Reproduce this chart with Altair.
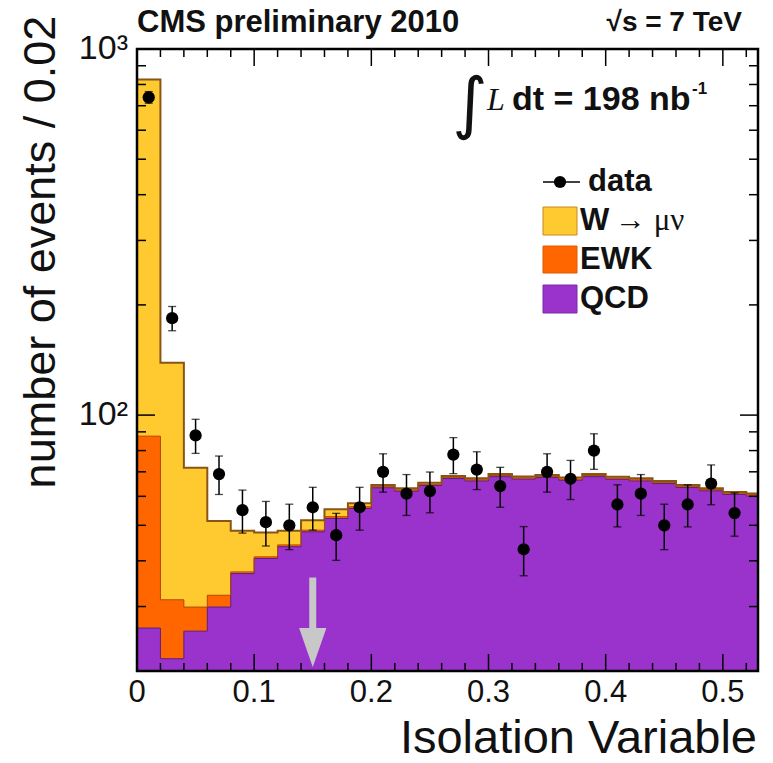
import altair as alt
import pandas as pd

# ---------------- data ----------------
bin_width = 0.02
# per-process contributions per 0.02 bin (0.00 ... 0.54)
qcd = [26.2, 21.6, 25.7, 29.9, 36.9, 40.6, 43.7, 48.0, 52.2, 55.6, 63.3, 62.0, 64.2, 67.1,
       66.1, 67.9, 66.9, 67.5, 66.4, 67.9, 66.8, 66.1, 65.0, 63.4, 62.1, 60.7, 60.1]
ewk = [61.4, 9.7, 4.2, 2.3, 0.4, 0.4, 0.5, 0.5, 0.6, 0.6, 0.6, 0.5, 0.5, 0.5,
       0.5, 0.5, 0.5, 0.5, 0.5, 0.5, 0.5, 0.5, 0.5, 0.5, 0.5, 0.5, 0.5]
wmunu = [738.4, 107.7, 41.9, 19.2, 11.0, 6.8, 4.1, 3.1, 2.5, 1.2, 0.5, 0.6, 0.6, 0.6,
         0.6, 0.6, 0.6, 0.6, 0.6, 0.6, 0.6, 0.6, 0.6, 0.5, 0.5, 0.5, 0.5]
# data points (bin centres 0.01 ... 0.51)
data_counts = [738, 184, 88, 69, 55, 51, 50, 56, 47, 56, 70, 61, 62, 78, 71, 64, 43, 70,
               67, 80, 57, 61, 50, 57, 65, 54]
data_err = [27, 14, 9.4, 8.3, 7.4, 7.1, 7.1, 7.5, 6.9, 7.5, 8.4, 7.8, 7.9, 8.8, 8.4, 8.0,
            6.6, 8.4, 8.2, 8.9, 7.5, 7.8, 7.1, 7.5, 8.1, 7.3]
x_tick_labels = [0, 0.1, 0.2, 0.3, 0.4, 0.5]
x_tick_text = ["0", "0.1", "0.2", "0.3", "0.4", "0.5"]
y_minor = [20, 30, 40, 50, 60, 70, 80, 90, 200, 300, 400, 500, 600, 700, 800, 900]
y_major = [100, 1000]
y_label_text = ["10²", "10³"]
cut_value = 0.15
arrow_top, arrow_head = 36.0, 23.2
y_floor = 20

# ---------------- styling ----------------
W, H = 621, 622
YEL, ORA, PUR = "#FFCA30", "#FF6600", "#9933CC"
SANS = "Liberation Sans"

xs = alt.Scale(domain=[0, 0.53], nice=False, zero=False)
ys = alt.Scale(type="log", domain=[y_floor, 1000], nice=False)

n = len(qcd)
lo = [round(i * bin_width, 2) for i in range(n)]
hi = [round((i + 1) * bin_width, 2) for i in range(n)]
s1 = list(qcd)
s2 = [a + b for a, b in zip(s1, ewk)]
s3 = [a + b for a, b in zip(s2, wmunu)]
step = pd.DataFrame({"x": lo + [hi[-1]], "tot": s3 + [s3[-1]],
                     "ewk": s2 + [s2[-1]], "qcd": s1 + [s1[-1]],
                     "base": [y_floor] * (n + 1)})

centers = [round(i * bin_width + bin_width / 2, 3) for i in range(len(data_counts))]
pts = pd.DataFrame({"x": centers, "y": data_counts,
                    "lo": [c - e for c, e in zip(data_counts, data_err)],
                    "hi": [c + e for c, e in zip(data_counts, data_err)]})

X = lambda f: alt.X(f, scale=xs, axis=None)
Y = lambda f: alt.Y(f, scale=ys, axis=None)

layers = []
# stacked filled histograms
for col, colr in [("tot", YEL), ("ewk", ORA), ("qcd", PUR)]:
    layers.append(alt.Chart(step).mark_area(interpolate="step-after", color=colr, opacity=1,
                                            clip=True)
                  .encode(x=X("x:Q"), y=Y(f"{col}:Q"), y2="base:Q"))
# outlines
for col, colr, sw in [("qcd", "#5b1f80", 1), ("ewk", "#b34700", 1), ("tot", "#8a5514", 2)]:
    layers.append(alt.Chart(step).mark_line(interpolate="step-after", color=colr,
                                            strokeWidth=sw, clip=True)
                  .encode(x=X("x:Q"), y=Y(f"{col}:Q")))

# cut arrow
arr = pd.DataFrame({"x": [cut_value], "top": [arrow_top], "head": [arrow_head]})
layers.append(alt.Chart(arr).mark_rule(color="#C8C8C8", strokeWidth=7)
              .encode(x=X("x:Q"), y=Y("top:Q"), y2="head:Q"))
layers.append(alt.Chart(arr).mark_point(shape="M -0.7 -1 L 0.7 -1 L 0 1 Z", filled=True,
                                        color="#C8C8C8", opacity=1, size=1521)
              .encode(x=X("x:Q"), y=Y("head:Q")))

# data with error bars
layers.append(alt.Chart(pts).mark_rule(color="black", strokeWidth=1.5)
              .encode(x=X("x:Q"), y=Y("lo:Q"), y2="hi:Q"))
for c in ["lo", "hi"]:
    layers.append(alt.Chart(pts).mark_tick(orient="horizontal", color="black", size=8,
                                           thickness=1.3)
                  .encode(x=X("x:Q"), y=Y(f"{c}:Q")))
layers.append(alt.Chart(pts).mark_circle(color="black", size=150, opacity=1)
              .encode(x=X("x:Q"), y=Y("y:Q")))

# ticks (inside, ROOT style)
xt = pd.DataFrame({"v": [round(i * bin_width, 2) for i in range(27)]})
xt["major"] = [abs(v * 10 - round(v * 10)) < 1e-6 for v in xt["v"]]
for is_major, ln in [(True, 17), (False, 8)]:
    d = xt[xt["major"] == is_major]
    layers.append(alt.Chart(d).mark_rule(color="black", strokeWidth=1.5)
                  .encode(x=X("v:Q"), y=alt.value(H), y2=alt.value(H - ln)))
    layers.append(alt.Chart(d).mark_rule(color="black", strokeWidth=1.5)
                  .encode(x=X("v:Q"), y=alt.value(0), y2=alt.value(ln)))
for vals, ln in [(y_major, 18), (y_minor, 9)]:
    d = pd.DataFrame({"v": vals})
    layers.append(alt.Chart(d).mark_rule(color="black", strokeWidth=1.5)
                  .encode(y=Y("v:Q"), x=alt.value(0), x2=alt.value(ln)))
    layers.append(alt.Chart(d).mark_rule(color="black", strokeWidth=1.5)
                  .encode(y=Y("v:Q"), x=alt.value(W), x2=alt.value(W - ln)))

# frame
one = pd.DataFrame({"a": [0]})
layers.append(alt.Chart(one).mark_rect(fillOpacity=0, stroke="black", strokeWidth=2.5)
              .encode(x=alt.value(0), x2=alt.value(W), y=alt.value(0), y2=alt.value(H)))

# tick labels
xl = pd.DataFrame({"v": x_tick_labels, "t": x_tick_text})
layers.append(alt.Chart(xl).mark_text(font=SANS, fontSize=31, color="#111", baseline="alphabetic")
              .encode(x=X("v:Q"), y=alt.value(H + 31), text="t:N"))
yl = pd.DataFrame({"v": y_major, "t": y_label_text})
layers.append(alt.Chart(yl).mark_text(font=SANS, fontSize=34, color="#111",
                                      align="right", baseline="middle")
              .encode(y=Y("v:Q"), x=alt.value(-9), text="t:N"))


def txt(s, x, y, size, weight="normal", align="left", baseline="alphabetic",
        font=SANS, style="normal", angle=0, color="#111"):
    kw = dict(font=font, fontSize=size, fontWeight=weight, align=align, baseline=baseline,
              color=color, fontStyle=style)
    if angle:
        kw["angle"] = angle
    return alt.Chart(one).mark_text(**kw).encode(x=alt.value(x), y=alt.value(y),
                                                  text=alt.value(s))


# axis titles
layers.append(txt("Isolation Variable", W - 1, H + 82, 47, align="right"))
layers.append(txt("number of events / 0.02", -82, 203, 45, align="center", angle=270))
# header texts
layers.append(txt("CMS preliminary 2010", 0, -17, 31, weight="bold"))
layers.append(txt("√s = 7 TeV", 605, -18, 28, weight="bold", align="right"))
# luminosity
layers.append(txt("∫", 333, 57, 68, font="DejaVu Sans", align="center", baseline="middle"))
layers.append(txt("L", 350, 61, 32, font="Liberation Serif", style="italic"))
layers.append(txt("dt = 198 nb", 375, 61, 34, weight="bold"))
layers.append(txt("-1", 555, 45, 17, weight="bold"))

# legend
leg_line = alt.Chart(one).mark_rule(color="black", strokeWidth=1.5).encode(
    x=alt.value(406), x2=alt.value(443), y=alt.value(133))
leg_dot = alt.Chart(one).mark_circle(color="black", size=150, opacity=1).encode(
    x=alt.value(423), y=alt.value(133))
layers += [leg_line, leg_dot, txt("data", 451, 133, 31, weight="bold", baseline="middle")]
for (y0, y1, colr, edge) in [(158, 186, YEL, "#c98a1a"), (197, 224, ORA, "#e05a00"),
                             (236, 264, PUR, "#7a2aa6")]:
    layers.append(alt.Chart(one).mark_rect(color=colr, stroke=edge, strokeWidth=1)
                  .encode(x=alt.value(406), x2=alt.value(440), y=alt.value(y0),
                          y2=alt.value(y1)))
layers.append(txt("W", 443, 172, 31, weight="bold", baseline="middle"))
layers.append(txt("→ μν", 478, 172, 31, font="Liberation Serif", baseline="middle"))
layers.append(txt("EWK", 443, 211, 31, weight="bold", baseline="middle"))
layers.append(txt("QCD", 443, 250, 31, weight="bold", baseline="middle"))

chart = alt.layer(*layers).properties(
    width=W, height=H, autosize="none",
    padding={"left": 137, "top": 49, "right": 15, "bottom": 92},
    background="white",
).configure_view(stroke=None)

chart.save("out.html", embed_options={"renderer": "svg", "actions": False})
